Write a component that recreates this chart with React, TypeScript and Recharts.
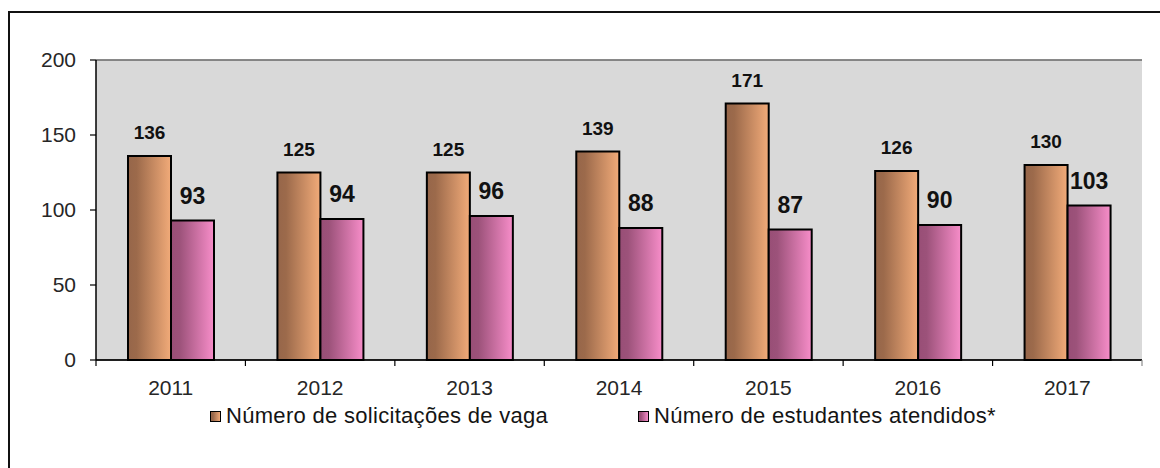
import React from "react";
import {
  BarChart,
  Bar,
  XAxis,
  YAxis,
  CartesianGrid,
  Legend,
  LabelList,
  ReferenceLine,
} from "recharts";

const years = ["2011", "2012", "2013", "2014", "2015", "2016", "2017"];
const solicitacoes = [136, 125, 125, 139, 171, 126, 130];
const atendidos = [93, 94, 96, 88, 87, 90, 103];
const yTicks = [0, 50, 100, 150, 200];
const seriesNames = ["Número de solicitações de vaga", "Número de estudantes atendidos*"];

const data = years.map((y, i) => ({
  year: y,
  solicitacoes: solicitacoes[i],
  atendidos: atendidos[i],
}));

const FONT = "'Liberation Sans', Arial, sans-serif";
const W = 1160;
const H = 468;
const M = { top: 60, right: 18, bottom: 50, left: 36 };
const Y_AXIS_W = 60;
const PLOT_W = W - M.left - Y_AXIS_W - M.right;
const TICK_SIZE = 6;
const TICK_MARGIN = 14;

const XTick = (props: any) => {
  const { x, y, payload, index, visibleTicksCount } = props;
  const half =
    payload && typeof payload.offset === "number" && payload.offset > 0
      ? payload.offset
      : PLOT_W / years.length / 2;
  const axisY = y - TICK_SIZE - TICK_MARGIN;
  const isLast = index === (visibleTicksCount ?? years.length) - 1;
  return (
    <g>
      <line x1={x - half} x2={x - half} y1={axisY} y2={axisY + TICK_SIZE} stroke="#000" strokeWidth={1.2} />
      {isLast && (
        <line x1={x + half} x2={x + half} y1={axisY} y2={axisY + TICK_SIZE} stroke="#8c8c8c" strokeWidth={1.2} />
      )}
      <text x={x} y={y} dy="0.71em" textAnchor="middle" fontFamily={FONT} fontSize={21} fill="#262626">
        {payload.value}
      </text>
    </g>
  );
};

const LegendContent = () => {
  const items = [
    { name: seriesNames[0], sq: 210, tx: 226, grad: ["#98674a", "#f0a978"] },
    { name: seriesNames[1], sq: 638, tx: 654, grad: ["#9b5078", "#f58bc8"] },
  ];
  return (
    <div
      style={{
        position: "relative",
        width: W,
        height: 28,
        fontFamily: FONT,
        fontSize: 22,
        letterSpacing: "0.3px",
        color: "#141414",
      }}
    >
      {items.map((it) => (
        <React.Fragment key={it.name}>
          <div
            style={{
              position: "absolute",
              left: it.sq,
              top: 9,
              width: 9,
              height: 9,
              border: "1.5px solid #000",
              background: `linear-gradient(to right, ${it.grad[0]} 20%, ${it.grad[1]})`,
            }}
          />
          <div style={{ position: "absolute", left: it.tx, top: 0, lineHeight: "28px", whiteSpace: "nowrap" }}>
            {it.name}
          </div>
        </React.Fragment>
      ))}
    </div>
  );
};

export default function App() {
  return (
    <div style={{ position: "absolute", left: 0, top: 0, width: W, height: H, background: "#fff", overflow: "hidden" }}>
      <div
        style={{
          position: "absolute",
          left: 8,
          top: 11,
          width: 1300,
          height: 600,
          border: "2px solid #111",
          boxSizing: "border-box",
        }}
      />
      <div style={{ position: "absolute", left: 0, top: 0 }}>
        <BarChart
          width={W}
          height={H}
          data={data}
          margin={M}
          barCategoryGap={32}
          barGap={0}
        >
          <defs>
            <linearGradient id="gradOrange" x1="0" y1="0" x2="1" y2="0">
              <stop offset="0" stopColor="#96664a" />
              <stop offset="0.2" stopColor="#9c6a4b" />
              <stop offset="1" stopColor="#f2ab79" />
            </linearGradient>
            <linearGradient id="gradPink" x1="0" y1="0" x2="1" y2="0">
              <stop offset="0" stopColor="#984e76" />
              <stop offset="0.2" stopColor="#9c527a" />
              <stop offset="1" stopColor="#f78dc9" />
            </linearGradient>
          </defs>
          <CartesianGrid vertical={false} stroke="#000" strokeWidth={1.2} fill="#d9d9d9" fillOpacity={1} />
          <XAxis
            dataKey="year"
            height={30}
            axisLine={{ stroke: "#000", strokeWidth: 1.5 }}
            tickLine={false}
            tickSize={TICK_SIZE}
            tickMargin={TICK_MARGIN}
            tick={<XTick />}
            interval={0}
          />
          <YAxis
            yAxisId="left"
            width={Y_AXIS_W}
            domain={[0, 200]}
            ticks={yTicks}
            axisLine={{ stroke: "#000", strokeWidth: 1.5 }}
            tickLine={{ stroke: "#000", strokeWidth: 1.2 }}
            tickSize={TICK_SIZE}
            tickMargin={TICK_MARGIN}
            tick={{ fontFamily: FONT, fontSize: 21, fill: "#262626" }}
          />
          <YAxis
            yAxisId="right"
            orientation="right"
            width={0}
            domain={[0, 200]}
            ticks={yTicks}
            tick={false}
            tickLine={false}
            axisLine={{ stroke: "#8c8c8c", strokeWidth: 1.5 }}
          />
          <ReferenceLine yAxisId="left" y={200} stroke="#8c8c8c" strokeWidth={1.5} />
          <Legend
            verticalAlign="bottom"
            content={<LegendContent />}
            wrapperStyle={{ top: 402, left: 0, width: W, height: 28, bottom: "auto" }}
          />
          <Bar
            yAxisId="left"
            dataKey="solicitacoes"
            name={seriesNames[0]}
            fill="url(#gradOrange)"
            stroke="#000"
            strokeWidth={2}
            isAnimationActive={false}
          >
            <LabelList
              dataKey="solicitacoes"
              position="top"
              offset={17}
              fill="#111"
              fontFamily={FONT}
              fontSize={19}
              fontWeight="bold"
            />
          </Bar>
          <Bar
            yAxisId="left"
            dataKey="atendidos"
            name={seriesNames[1]}
            fill="url(#gradPink)"
            stroke="#000"
            strokeWidth={2}
            isAnimationActive={false}
          >
            <LabelList
              dataKey="atendidos"
              position="top"
              offset={17}
              fill="#111"
              fontFamily={FONT}
              fontSize={23}
              fontWeight="bold"
            />
          </Bar>
        </BarChart>
      </div>
    </div>
  );
}
